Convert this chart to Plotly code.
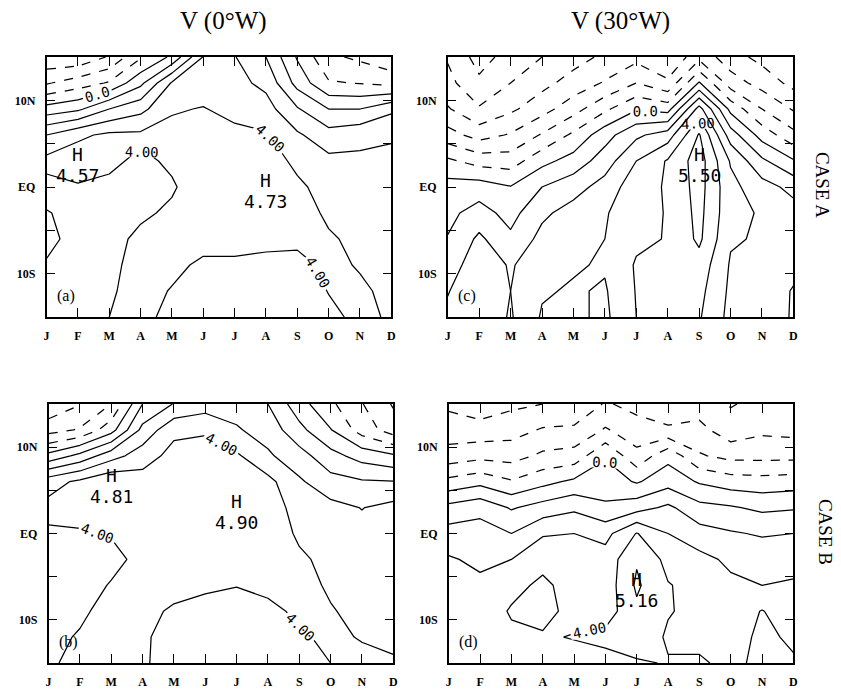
import plotly.graph_objects as go

# ---------------- data ----------------
months = ["J", "F", "M", "A", "M", "J", "J", "A", "S", "O", "N", "D"]
month_pos = list(range(12))
lats = [15, 12, 9, 6, 3, 0, -3, -6, -9, -12, -15]          # rows of the grids below
lat_tickvals = [-10, -5, 0, 5, 10]
lat_ticktext = ["10S", "", "EQ", "", "10N"]

# V (0°W), case A  -- rows: lat 15 ... -15, columns: J ... D
v_a_0w = [
    [-3.8, -3.8, -2.9, -1.1, 0.2, 3.05, 3.05, 2.0, -0.1, -1.8, -2.2, -2.8],
    [-2.1, -1.5, -0.9, 0.75, 3.1, 3.5, 3.3, 2.75, 0.65, -0.9, -1.05, -1.3],
    [0.4, 0.8, 2.0, 2.7, 3.9, 4.05, 3.7, 3.4, 2.1, 1.0, 1.0, 1.8],
    [3.0, 3.8, 4.2, 4.2, 4.3, 4.4, 4.25, 4.1, 3.15, 2.4, 2.7, 2.85],
    [4.3, 4.57, 4.2, 3.8, 4.15, 4.5, 4.6, 4.55, 3.75, 3.25, 3.2, 3.3],
    [3.7, 3.9, 3.8, 3.6, 3.9, 4.5, 4.65, 4.73, 4.2, 3.6, 3.5, 3.5],
    [2.9, 3.5, 3.6, 3.85, 4.15, 4.5, 4.6, 4.6, 4.4, 3.85, 3.7, 3.6],
    [2.7, 3.4, 3.7, 4.2, 4.3, 4.3, 4.3, 4.2, 4.15, 4.1, 3.8, 3.7],
    [3.1, 3.5, 3.8, 4.3, 4.2, 3.85, 3.85, 3.8, 3.8, 4.15, 3.95, 3.8],
    [3.3, 3.6, 3.9, 4.3, 3.95, 3.5, 3.55, 3.6, 3.5, 4.03, 4.1, 3.85],
    [3.4, 3.7, 4.0, 4.3, 3.7, 3.4, 3.45, 3.5, 3.4, 3.8, 4.2, 3.9],
]

# V (0°W), case B
v_b_0w = [
    [-3.8, -3.05, -2.0, 1.0, 2.05, 2.5, 2.6, 2.0, 0.4, -0.8, -1.95, -3.1],
    [-2.4, -1.9, -0.4, 2.3, 3.75, 3.9, 3.1, 2.6, 1.3, 0.05, -1.45, -2.5],
    [0.3, 1.3, 2.6, 3.5, 4.35, 4.35, 4.15, 3.15, 2.4, 1.35, 0.6, 0.15],
    [3.6, 4.2, 4.81, 4.45, 4.6, 4.6, 4.6, 4.3, 3.15, 2.35, 2.1, 2.05],
    [4.3, 4.4, 4.5, 4.6, 4.65, 4.7, 4.9, 4.6, 3.55, 3.3, 2.97, 3.3],
    [3.85, 3.9, 4.05, 4.4, 4.55, 4.6, 4.7, 4.6, 3.85, 3.6, 3.3, 3.6],
    [3.5, 3.6, 3.8, 4.2, 4.45, 4.4, 4.4, 4.5, 4.15, 3.75, 3.5, 3.7],
    [3.5, 3.7, 4.05, 4.15, 4.25, 4.15, 4.03, 4.2, 4.25, 3.9, 3.65, 3.8],
    [3.7, 3.9, 4.2, 4.2, 3.9, 3.7, 3.6, 3.8, 4.15, 4.05, 3.8, 3.85],
    [3.85, 4.05, 4.2, 4.15, 3.6, 3.4, 3.4, 3.5, 3.9, 4.15, 3.95, 3.9],
    [3.95, 4.1, 4.2, 4.15, 3.5, 3.2, 3.3, 3.4, 3.7, 4.0, 4.2, 4.05],
]

# V (30°W), case A
v_a_30w = [
    [-5.1, -6.4, -5.6, -5.0, -4.4, -3.8, -3.3, -4.0, -2.3, -3.6, -4.3, -5.0],
    [-4.7, -5.8, -5.0, -4.3, -3.6, -2.9, -2.0, -2.8, 0.1, -2.5, -3.4, -4.3],
    [-3.9, -4.9, -4.2, -3.4, -2.4, -1.2, -0.1, -0.4, 3.4, -0.3, -2.0, -3.1],
    [-2.6, -3.4, -2.9, -1.9, -0.8, 0.6, 1.8, 2.5, 5.1, 1.5, -0.4, -1.7],
    [-0.8, -1.4, -1.5, -0.3, 0.4, 1.5, 3.0, 4.1, 5.5, 2.9, 1.2, 0.1],
    [0.4, 0.5, 0.05, 1.0, 1.6, 2.4, 3.6, 4.1, 5.4, 3.3, 2.4, 1.7],
    [0.75, 1.4, 0.65, 1.8, 2.4, 2.9, 3.7, 4.05, 5.3, 3.3, 2.9, 2.4],
    [1.05, 2.2, 1.2, 2.3, 2.8, 3.0, 3.8, 4.05, 5.2, 3.1, 2.9, 2.6],
    [1.5, 2.6, 1.9, 2.6, 2.9, 3.1, 4.1, 4.3, 4.6, 2.9, 2.7, 2.8],
    [1.95, 2.7, 2.0, 2.9, 3.1, 2.9, 4.05, 4.4, 4.3, 2.8, 2.6, 3.05],
    [2.2, 2.7, 1.9, 3.1, 3.2, 2.8, 4.0, 4.3, 4.1, 2.7, 2.4, 3.1],
]

# V (30°W), case B
v_b_30w = [
    [-4.2, -4.6, -4.2, -4.0, -3.9, -2.9, -3.3, -3.9, -3.5, -2.9, -3.4, -3.6],
    [-3.5, -3.6, -3.4, -2.9, -2.8, -1.9, -2.6, -2.8, -2.7, -3.6, -3.2, -3.3],
    [-2.6, -2.3, -2.4, -1.8, -1.6, -0.1, -1.7, -0.3, -1.9, -2.3, -2.3, -2.3],
    [-0.7, -0.3, -0.9, -0.3, 0.2, 0.55, -0.1, 0.6, -0.1, -0.5, -0.6, -0.5],
    [1.3, 1.7, 0.9, 1.4, 1.8, 1.15, 1.6, 2.2, 1.3, 1.1, 0.8, 0.9],
    [2.4, 2.4, 2.0, 2.9, 3.0, 2.7, 4.05, 3.0, 2.4, 2.1, 1.9, 2.0],
    [3.1, 2.8, 3.0, 3.7, 3.5, 3.4, 4.9, 3.7, 3.3, 2.8, 2.6, 2.7],
    [3.4, 3.2, 3.7, 4.2, 3.6, 3.4, 5.16, 4.05, 3.7, 3.2, 3.0, 3.1],
    [3.5, 3.4, 4.1, 4.3, 3.7, 3.5, 4.8, 4.05, 3.8, 3.4, 4.05, 3.4],
    [3.5, 3.4, 3.8, 3.9, 4.05, 4.3, 4.5, 3.9, 3.8, 3.6, 4.2, 3.85],
    [3.5, 3.4, 3.6, 3.8, 3.6, 3.6, 3.9, 4.05, 4.1, 3.8, 4.2, 4.1],
]

column_titles = ["V (0°W)", "V (30°W)"]
row_titles = ["CASE A", "CASE B"]
panel_letters = ["(a)", "(b)", "(c)", "(d)"]

# ---------------- figure ----------------
W, H = 841, 690
panels = [
    dict(z=v_a_0w, n="", xd=[44 / W, 392 / W], yd=[1 - 317 / H, 1 - 57 / H], letter=panel_letters[0]),
    dict(z=v_b_0w, n="2", xd=[46 / W, 394 / W], yd=[1 - 663 / H, 1 - 404 / H], letter=panel_letters[1]),
    dict(z=v_a_30w, n="3", xd=[449 / W, 798 / W], yd=[1 - 317 / H, 1 - 57 / H], letter=panel_letters[2]),
    dict(z=v_b_30w, n="4", xd=[450 / W, 798 / W], yd=[1 - 663 / H, 1 - 404 / H], letter=panel_letters[3]),
]

lat_asc = lats[::-1]
LW = 1.25
label_font = dict(family="DejaVu Sans Mono", size=14, color="black")
tick_font = dict(family="Liberation Serif", size=12, color="black", weight="bold")


def local_maxima(z):
    found = []
    for i in range(1, len(z) - 1):
        for j in range(1, len(z[0]) - 1):
            v = z[i][j]
            neigh = [z[i + a][j + b] for a in (-1, 0, 1) for b in (-1, 0, 1) if (a or b)]
            if v > max(neigh) and v > 4.5:
                found.append((month_pos[j], lats[i], v))
    return found


fig = go.Figure()
annotations = []
layout_axes = {}

for p in panels:
    z = p["z"][::-1]
    xa, ya = "x" + p["n"], "y" + p["n"]
    base = dict(x=month_pos, y=lat_asc, z=z, xaxis=xa, yaxis=ya, showscale=False,
                hoverinfo="skip", autocontour=False, line_smoothing=0)
    # negative contours: dashed
    fig.add_trace(go.Contour(**base, contours=dict(coloring="none", start=-9, end=-1, size=1),
                             line=dict(color="black", width=LW, dash="dash")))
    # positive unlabeled contours
    fig.add_trace(go.Contour(**base, contours=dict(coloring="none", start=1, end=3, size=1),
                             line=dict(color="black", width=LW)))
    fig.add_trace(go.Contour(**base, contours=dict(coloring="none", start=5, end=9, size=1),
                             line=dict(color="black", width=LW)))
    # labeled 0 and 4 contours
    fig.add_trace(go.Contour(**base, contours=dict(coloring="none", start=0, end=0, size=1,
                                                   showlabels=True, labelformat=".1f", labelfont=label_font),
                             line=dict(color="black", width=LW)))
    fig.add_trace(go.Contour(**base, contours=dict(coloring="none", start=4, end=4, size=1,
                                                   showlabels=True, labelformat=".2f", labelfont=label_font),
                             line=dict(color="black", width=LW)))

    axis_line = dict(showline=True, linecolor="black", linewidth=1.5, mirror="allticks",
                     ticks="inside", ticklen=9, tickwidth=1.2, tickcolor="black",
                     showgrid=False, zeroline=False, ticklabelstandoff=7, tickfont=tick_font)
    layout_axes["xaxis" + p["n"]] = dict(domain=p["xd"], anchor=ya, range=[0, 11],
                                         tickvals=month_pos, ticktext=months, **axis_line)
    layout_axes["yaxis" + p["n"]] = dict(domain=p["yd"], anchor=xa, range=[-15, 15],
                                         tickvals=lat_tickvals, ticktext=lat_ticktext, **axis_line)
    # panel letter
    annotations.append(dict(text=p["letter"], x=0.057, y=0.08, xref=xa + " domain", yref=ya + " domain",
                            showarrow=False, xanchor="center", yanchor="middle",
                            font=dict(family="Liberation Serif", size=16, color="black")))
    # H markers from the grid's local maxima
    for (mx, my, val) in local_maxima(p["z"]):
        annotations.append(dict(text="H", x=mx, y=my, xref=xa, yref=ya, showarrow=False, yshift=6,
                                xanchor="center", yanchor="middle",
                                font=dict(family="DejaVu Sans Mono", size=18, color="black")))
        annotations.append(dict(text=f"{val:.2f}", x=mx, y=my, xref=xa, yref=ya, showarrow=False, yshift=-15,
                                xanchor="center", yanchor="middle",
                                font=dict(family="DejaVu Sans Mono", size=18, color="black")))

# column and row titles
for txt, cx in zip(column_titles, [223, 623]):
    annotations.append(dict(text=txt, x=cx / W, y=1 - 21 / H, xref="paper", yref="paper",
                            xanchor="center", yanchor="middle", showarrow=False,
                            font=dict(family="Liberation Serif", size=25, color="black")))
for txt, cx, cy in zip(row_titles, [828, 831], [185, 532]):
    annotations.append(dict(text=txt, x=cx / W, y=1 - cy / H, xref="paper", yref="paper",
                            xanchor="center", yanchor="middle", showarrow=False, textangle=90,
                            font=dict(family="Liberation Serif", size=19, color="black")))

fig.update_layout(width=W, height=H, margin=dict(l=0, r=0, t=0, b=0),
                  paper_bgcolor="white", plot_bgcolor="white", showlegend=False,
                  annotations=annotations, **layout_axes)

fig.write_html("out.html", config={"displayModeBar": False},
               post_script="document.body.style.margin='0px';")
